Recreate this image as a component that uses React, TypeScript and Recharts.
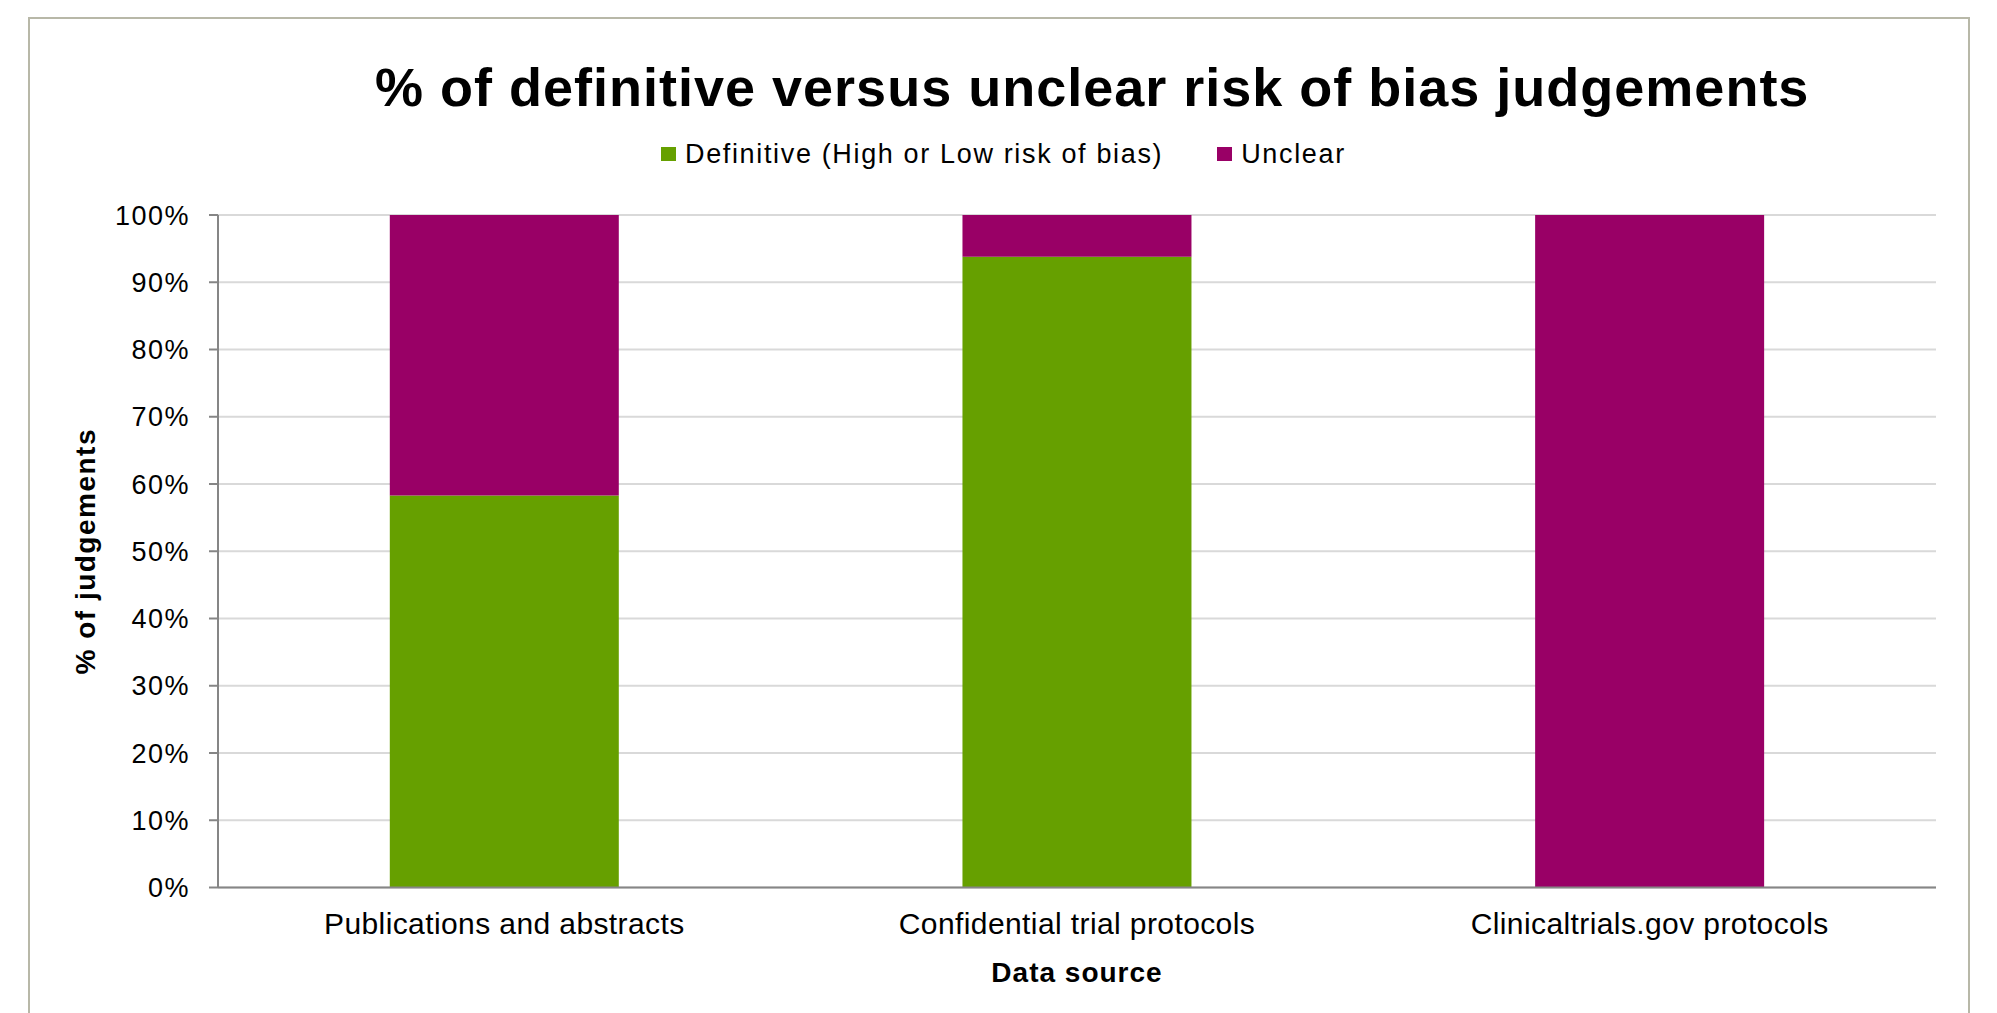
import React from 'react';
import { BarChart, Bar, XAxis, YAxis, CartesianGrid, Legend } from 'recharts';

const sources = ['Publications and abstracts', 'Confidential trial protocols', 'Clinicaltrials.gov protocols'];
const definitive = [58.3, 93.8, 0];
const unclear = [41.7, 6.2, 100];
const yTicks = [0, 10, 20, 30, 40, 50, 60, 70, 80, 90, 100];
const seriesNames = ['Definitive (High or Low risk of bias)', 'Unclear'];
const COLORS = ['#66a000', '#990066'];

const data = sources.map((name, i) => ({ name, definitive: definitive[i], unclear: unclear[i] }));

const FONT = '"Liberation Sans", Arial, Helvetica, sans-serif';
const AXIS = '#868686';

const LegendContent = (props: any) => {
    const items = props.payload && props.payload.length
        ? props.payload.map((p: any) => ({ name: p.value, color: p.color }))
        : seriesNames.map((n, i) => ({ name: n, color: COLORS[i] }));
    return (
        <div style={{ height: 40, display: 'flex', alignItems: 'center', paddingLeft: 661, fontFamily: FONT, fontSize: 27, letterSpacing: 1.65, color: '#000', boxSizing: 'border-box' }}>
            {items.map((it: any, i: number) => (
                <div key={it.name} style={{ display: 'flex', alignItems: 'center', marginRight: i === 0 ? 54 : 0 }}>
                    <span style={{ display: 'inline-block', width: 15, height: 14, background: it.color, marginRight: 9 }} />
                    <span style={{ whiteSpace: 'nowrap' }}>{it.name}</span>
                </div>
            ))}
        </div>
    );
};

const YTitle = (props: any) => {
    const vb = props.viewBox || { x: 18, y: 215, width: 200, height: 672.5 };
    const x = vb.x + 77;
    const y = vb.y + vb.height / 2;
    return (
        <text x={x} y={y} transform={`rotate(-90, ${x}, ${y})`} textAnchor="middle" fontFamily={FONT} fontSize={28} fontWeight="bold" letterSpacing={1.5} fill="#000">
            % of judgements
        </text>
    );
};

const App: React.FC = () => {
    return (
        <div style={{ position: 'relative', width: 1997, height: 1013, overflow: 'hidden', background: '#fff' }}>
            <style>{'body{margin:0}'}</style>
            <div style={{ position: 'absolute', left: 28, top: 17, width: 1942, height: 1100, border: '2px solid #b8b8a8', boxSizing: 'border-box' }} />
            <div style={{ position: 'absolute', left: 375, top: 60, fontFamily: FONT, fontSize: 54, fontWeight: 'bold', letterSpacing: 1, lineHeight: '54px', whiteSpace: 'nowrap', color: '#000' }}>
                % of definitive versus unclear risk of bias judgements
            </div>
            <div style={{ position: 'absolute', left: 0, top: 0 }}>
                <BarChart width={1997} height={1013} data={data} barCategoryGap="30%" margin={{ top: 175, right: 61, bottom: 25.5, left: 18 }}>
                    <CartesianGrid vertical={false} stroke="#d9d9d9" strokeWidth={2} />
                    <XAxis
                        dataKey="name"
                        height={100}
                        interval={0}
                        tickLine={false}
                        tickSize={0}
                        tickMargin={25}
                        axisLine={{ stroke: AXIS, strokeWidth: 2 }}
                        tick={{ fontSize: 30, fill: '#000', fontFamily: FONT, letterSpacing: 0.4 }}
                        label={{ value: 'Data source', position: 'insideBottom', offset: 6, fontSize: 28, fontWeight: 'bold', fill: '#000', fontFamily: FONT, letterSpacing: 1 }}
                    />
                    <YAxis
                        type="number"
                        width={200}
                        domain={[0, 100]}
                        ticks={yTicks}
                        interval={0}
                        tickFormatter={(v: number) => `${v}%`}
                        tickSize={9}
                        tickMargin={19}
                        axisLine={{ stroke: AXIS, strokeWidth: 2 }}
                        tickLine={{ stroke: AXIS, strokeWidth: 2 }}
                        tick={{ fontSize: 27, fill: '#000', fontFamily: FONT, letterSpacing: 1.5 }}
                        label={{ content: YTitle }}
                    />
                    <Legend verticalAlign="top" content={LegendContent} wrapperStyle={{ top: 134, left: 0, width: 1997, height: 40 }} />
                    <Bar dataKey="definitive" name={seriesNames[0]} stackId="a" fill={COLORS[0]} isAnimationActive={false} />
                    <Bar dataKey="unclear" name={seriesNames[1]} stackId="a" fill={COLORS[1]} isAnimationActive={false} />
                </BarChart>
            </div>
        </div>
    );
};

export default App;
